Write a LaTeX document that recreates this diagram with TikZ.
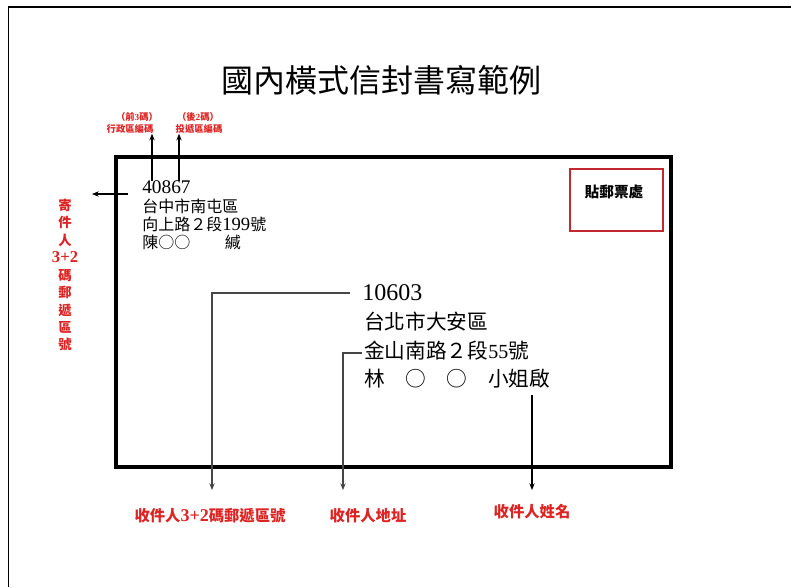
\documentclass[tikz,border=0pt]{standalone}
\usepackage{fontspec}
\setmainfont{Noto Sans CJK TC}
\newfontfamily\dg{Liberation Serif}
\usetikzlibrary{arrows.meta}
\definecolor{labelred}{RGB}{222,35,35}
\definecolor{stampred}{RGB}{195,40,50}
\definecolor{conngray}{RGB}{70,70,70}
\tikzset{
  conn/.style={draw=conngray, line width=0.8pt, -{Stealth[length=5pt,width=4pt]}},
  redlab/.style={text=labelred, font=\bfseries\fontsize{11.5}{12}\selectfont, inner sep=0pt},
  tinylab/.style={text=labelred, font=\bfseries\fontsize{7}{8}\selectfont, inner sep=0pt},
  sendtxt/.style={anchor=west, inner sep=0pt, font=\fontsize{12}{12}\selectfont},
  rcvtxt/.style={anchor=west, inner sep=0pt, font=\fontsize{15.5}{15.5}\selectfont},
}
\begin{document}
\begin{tikzpicture}[x=0.75pt,y=-0.75pt]
\useasboundingbox (0,0) rectangle (791,587);
% outer frame
\draw[line width=1.3pt] (8.5,587) -- (8.5,7) -- (791,7);
% title
\node[inner sep=0pt, font=\fontsize{24}{24}\selectfont] (title) at (381,80) {國內橫式信封書寫範例};
% envelope
\draw[line width=2.3pt] (116,157) rectangle (671,467);
% stamp box
\draw[stampred, line width=1.3pt] (570,169) rectangle (663,231);
\node[inner sep=0pt, font=\bfseries\fontsize{11}{11}\selectfont] (stamp) at (614,192) {貼郵票處};
% sender
\node[sendtxt, font=\dg\fontsize{14.5}{14.5}\selectfont] (szip) at (142,187) {40867};
\node[sendtxt] (s1) at (142,206) {台中市南屯區};
\node[sendtxt] (s2) at (142,224) {向上路２段{\dg\fontsize{14}{14}\selectfont 199}號};
\node[sendtxt] (s3) at (142,243) {陳○○\hspace{26pt}緘};
% small labels above
\node[tinylab] (pre1) at (137,117) {（前{\dg 3}碼）};
\node[tinylab] (pre2) at (130,129) {行政區編碼};
\node[tinylab] (post1) at (198,117) {（後{\dg 2}碼）};
\node[tinylab] (post2) at (199,129) {投遞區編碼};
\coordinate (u1) at (152,181);
\coordinate (u2) at (179,181);
\draw[conn, draw=black] (u1) -- (pre2.south -| u1);
\draw[conn, draw=black] (u2) -- (post2.south -| u2);
% left arrow and vertical label
\coordinate (la) at (128,194);
\node[text=labelred, font=\bfseries\fontsize{10}{13.1}\selectfont, align=center, inner sep=0pt] (sender) at (65,275)
  {寄\\件\\人\\{\dg\fontsize{12.5}{13.1}\selectfont 3+2}\\碼\\郵\\遞\\區\\號};
\draw[conn, draw=black] (la) -- (92,194);
% recipient
\node[rcvtxt, font=\dg\fontsize{18}{18}\selectfont] (rzip) at (362,293) {10603};
\node[rcvtxt] (r1) at (364,322) {台北市大安區};
\node[rcvtxt] (r2) at (364,351) {金山南路２段{\dg\fontsize{15}{15}\selectfont 55}號};
\node[rcvtxt] (r3) at (364,379) {林　○　○　小姐啟};
% bottom labels
\node[redlab] (l1) at (210,516) {收件人{\dg\fontsize{13.5}{13.5}\selectfont 3+2}碼郵遞區號};
\node[redlab] (l2) at (368,516) {收件人地址};
\node[redlab] (l3) at (532,512) {收件人姓名};
% connectors
\coordinate (c1) at (350,293);
\coordinate (c1e) at (212,490);
\draw[conn] (c1) -| (c1e);
\coordinate (c2) at (362,353);
\coordinate (c2e) at (343,490);
\draw[conn] (c2) -| (c2e);
\coordinate (c3) at (532,395);
\coordinate (c3e) at (532,490);
\draw[conn, draw=black] (c3) -- (c3e);
\end{tikzpicture}
\end{document}
